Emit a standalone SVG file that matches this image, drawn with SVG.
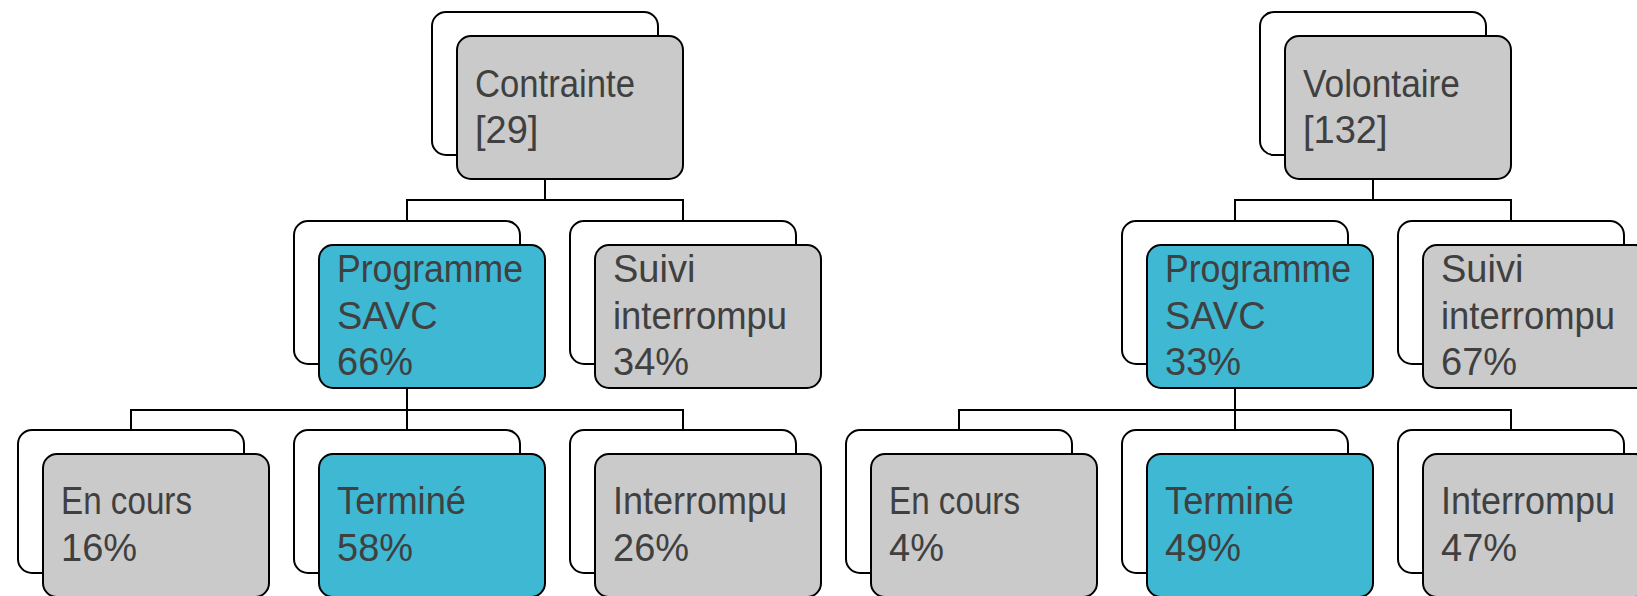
<svg xmlns="http://www.w3.org/2000/svg" width="1637" height="596" viewBox="0 0 1637 596">
<style>
.bg{fill:#fff;stroke:#000;stroke-width:2}
.g{fill:#cacaca;stroke:#000;stroke-width:2}
.b{fill:#3eb8d3;stroke:#000;stroke-width:2}
.t{font-family:"Liberation Sans","Noto Sans",sans-serif;font-size:38px;fill:#404040}
.c{fill:none;stroke:#000;stroke-width:2}
</style>
<rect width="1637" height="596" fill="#fff"/>
<g id="connectors">
<path class="c" d="M545,179V200M407,221V200H683V221"/>
<path class="c" d="M407,388V430M131,430V410H683V430"/>
<path class="c" d="M1373,179V200M1235,221V200H1511V221"/>
<path class="c" d="M1235,388V430M959,430V410H1511V430"/>
</g>
<g id="n-contrainte">
<rect class="bg" x="432" y="12" width="226" height="143" rx="14"/>
<rect class="g" x="457" y="36" width="226" height="143" rx="14"/>
<text class="t" x="475" y="96.5" textLength="160" lengthAdjust="spacingAndGlyphs">Contrainte</text>
<text class="t" x="475" y="143">[29]</text>
</g>
<g id="n-l-programme">
<rect class="bg" x="294" y="221" width="226" height="143" rx="14"/>
<rect class="b" x="319" y="245" width="226" height="143" rx="14"/>
<text class="t" x="337" y="282" textLength="186" lengthAdjust="spacingAndGlyphs">Programme</text>
<text class="t" x="337" y="329">SAVC</text>
<text class="t" x="337" y="375">66%</text>
</g>
<g id="n-l-suivi">
<rect class="bg" x="570" y="221" width="226" height="143" rx="14"/>
<rect class="g" x="595" y="245" width="226" height="143" rx="14"/>
<text class="t" x="613" y="282">Suivi</text>
<text class="t" x="613" y="329" textLength="174" lengthAdjust="spacingAndGlyphs">interrompu</text>
<text class="t" x="613" y="375">34%</text>
</g>
<g id="n-l-encours">
<rect class="bg" x="18" y="430" width="226" height="143" rx="14"/>
<rect class="g" x="43" y="454" width="226" height="143" rx="14"/>
<text class="t" x="61" y="514" textLength="131" lengthAdjust="spacingAndGlyphs">En cours</text>
<text class="t" x="61" y="560.5">16%</text>
</g>
<g id="n-l-termine">
<rect class="bg" x="294" y="430" width="226" height="143" rx="14"/>
<rect class="b" x="319" y="454" width="226" height="143" rx="14"/>
<text class="t" x="337" y="514" textLength="129" lengthAdjust="spacingAndGlyphs">Terminé</text>
<text class="t" x="337" y="560.5">58%</text>
</g>
<g id="n-l-interrompu">
<rect class="bg" x="570" y="430" width="226" height="143" rx="14"/>
<rect class="g" x="595" y="454" width="226" height="143" rx="14"/>
<text class="t" x="613" y="514" textLength="174" lengthAdjust="spacingAndGlyphs">Interrompu</text>
<text class="t" x="613" y="560.5">26%</text>
</g>
<g id="n-volontaire">
<rect class="bg" x="1260" y="12" width="226" height="143" rx="14"/>
<rect class="g" x="1285" y="36" width="226" height="143" rx="14"/>
<text class="t" x="1303" y="96.5" textLength="157" lengthAdjust="spacingAndGlyphs">Volontaire</text>
<text class="t" x="1303" y="143">[132]</text>
</g>
<g id="n-r-programme">
<rect class="bg" x="1122" y="221" width="226" height="143" rx="14"/>
<rect class="b" x="1147" y="245" width="226" height="143" rx="14"/>
<text class="t" x="1165" y="282" textLength="186" lengthAdjust="spacingAndGlyphs">Programme</text>
<text class="t" x="1165" y="329">SAVC</text>
<text class="t" x="1165" y="375">33%</text>
</g>
<g id="n-r-suivi">
<rect class="bg" x="1398" y="221" width="226" height="143" rx="14"/>
<rect class="g" x="1423" y="245" width="226" height="143" rx="14"/>
<text class="t" x="1441" y="282">Suivi</text>
<text class="t" x="1441" y="329" textLength="174" lengthAdjust="spacingAndGlyphs">interrompu</text>
<text class="t" x="1441" y="375">67%</text>
</g>
<g id="n-r-encours">
<rect class="bg" x="846" y="430" width="226" height="143" rx="14"/>
<rect class="g" x="871" y="454" width="226" height="143" rx="14"/>
<text class="t" x="889" y="514" textLength="131" lengthAdjust="spacingAndGlyphs">En cours</text>
<text class="t" x="889" y="560.5">4%</text>
</g>
<g id="n-r-termine">
<rect class="bg" x="1122" y="430" width="226" height="143" rx="14"/>
<rect class="b" x="1147" y="454" width="226" height="143" rx="14"/>
<text class="t" x="1165" y="514" textLength="129" lengthAdjust="spacingAndGlyphs">Terminé</text>
<text class="t" x="1165" y="560.5">49%</text>
</g>
<g id="n-r-interrompu">
<rect class="bg" x="1398" y="430" width="226" height="143" rx="14"/>
<rect class="g" x="1423" y="454" width="226" height="143" rx="14"/>
<text class="t" x="1441" y="514" textLength="174" lengthAdjust="spacingAndGlyphs">Interrompu</text>
<text class="t" x="1441" y="560.5">47%</text>
</g>
</svg>
